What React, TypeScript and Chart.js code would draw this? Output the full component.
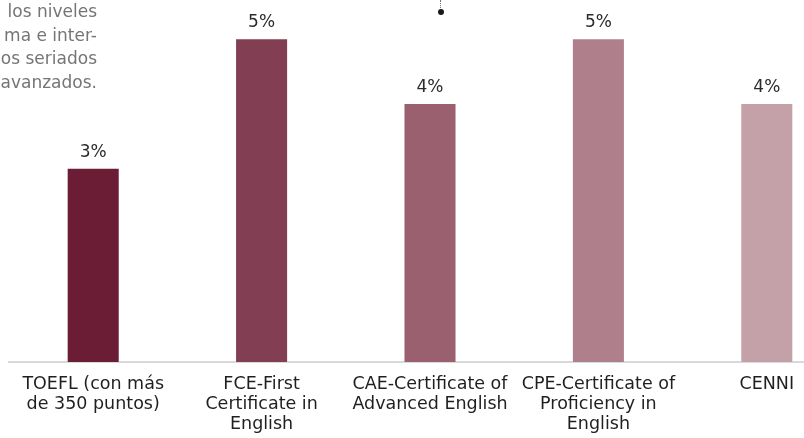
import React, { useEffect, useRef } from "react";
import { Chart, registerables } from "chart.js";

Chart.register(...registerables);

const categories: string[][] = [
  ["TOEFL (con más", "de 350 puntos)"],
  ["FCE-First", "Certificate in", "English"],
  ["CAE-Certificate of", "Advanced English"],
  ["CPE-Certificate of", "Proficiency in", "English"],
  ["CENNI"],
];
const values: number[] = [3, 5, 4, 5, 4];
const barColors: string[] = ["#6B1D35", "#823E53", "#9A6070", "#AF808C", "#C4A1A9"];
const noteLines: string[] = ["los niveles", "ma e inter-", "os seriados", "avanzados."];

const FONT = "'DejaVu Sans', 'Noto Sans', sans-serif";

const valueLabels = {
  id: "valueLabels",
  afterDatasetsDraw(chart: any) {
    const ctx = chart.ctx;
    const meta = chart.getDatasetMeta(0);
    ctx.save();
    ctx.font = `17px ${FONT}`;
    ctx.fillStyle = "#2b2b2b";
    ctx.textAlign = "center";
    ctx.textBaseline = "alphabetic";
    meta.data.forEach((bar: any, i: number) => {
      ctx.fillText(`${values[i]}%`, bar.x, bar.y - 11);
    });
    ctx.restore();
  },
};

export default function App() {
  const ref = useRef<HTMLCanvasElement>(null);
  useEffect(() => {
    if (!ref.current) return;
    const chart = new Chart(ref.current, {
      type: "bar",
      data: {
        labels: categories,
        datasets: [
          {
            data: values,
            backgroundColor: barColors,
            borderColor: "rgba(255,255,255,0.35)",
            borderWidth: 1,
            categoryPercentage: 1,
            barPercentage: 0.315,
          },
        ],
      },
      options: {
        responsive: false,
        animation: false,
        layout: { padding: { left: 9, right: 9, top: 6, bottom: -8 } },
        plugins: { legend: { display: false }, tooltip: { enabled: false } },
        scales: {
          x: {
            grid: { display: false, drawTicks: false },
            border: { display: true, color: "#d9d9d9", width: 2 },
            ticks: {
              padding: 12,
              color: "#1f1f1f",
              maxRotation: 0,
              autoSkip: false,
              font: { family: FONT, size: 17.5, lineHeight: 20 / 17.5 },
            },
          },
          y: {
            display: false,
            min: 0,
            max: 5.5,
          },
        },
      },
      plugins: [valueLabels],
    });
    return () => chart.destroy();
  }, []);

  return (
    <div
      style={{
        position: "fixed",
        left: 0,
        top: 0,
        width: 804,
        height: 438,
        overflow: "hidden",
        background: "#fff",
      }}
    >
      <canvas ref={ref} width={860} height={438} style={{ position: "absolute", left: 0, top: 0 }} />
      <div
        style={{
          position: "absolute",
          right: 804 - 97,
          top: 0,
          textAlign: "right",
          whiteSpace: "nowrap",
          fontFamily: FONT,
          fontSize: 17,
          lineHeight: "23.7px",
          color: "#757575",
        }}
      >
        {noteLines.map((l, i) => (
          <div key={i}>{l}</div>
        ))}
      </div>
      <div
        style={{
          position: "absolute",
          left: 440,
          top: 0,
          height: 10,
          width: 0,
          borderLeft: "1.5px dotted #777",
        }}
      />
      <div
        style={{
          position: "absolute",
          left: 438,
          top: 9,
          width: 6,
          height: 6,
          borderRadius: 3,
          background: "#1a1a1a",
        }}
      />
    </div>
  );
}
